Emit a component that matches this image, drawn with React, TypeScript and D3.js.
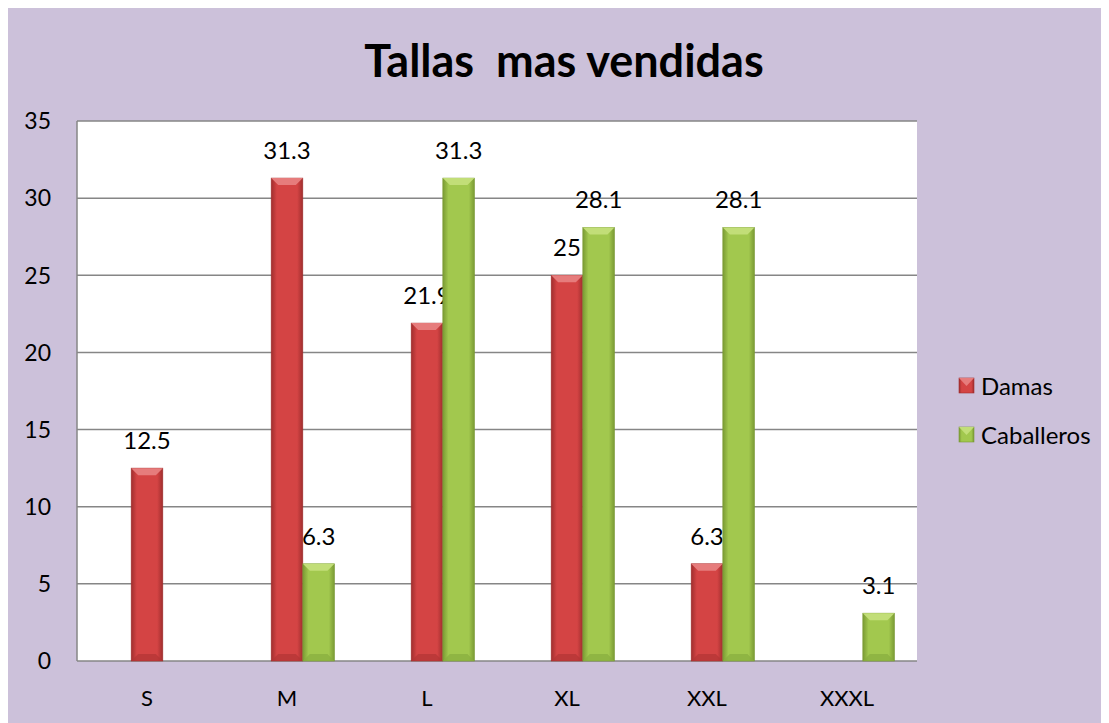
import React from "react";
import * as d3 from "d3";

const categories = ["S", "M", "L", "XL", "XXL", "XXXL"];
const seriesNames = ["Damas", "Caballeros"];
const damas: (number | null)[] = [12.5, 31.3, 21.9, 25, 6.3, null];
const caballeros: (number | null)[] = [null, 6.3, 31.3, 28.1, 28.1, 3.1];
const yTicks = [0, 5, 10, 15, 20, 25, 30, 35];

const W = 1101;
const H = 715;
const plot = { left: 69, right: 909, top: 113, bottom: 653 };
const FONT = "Lato, 'Open Sans', sans-serif";

const colors = {
  Damas: { mid: "#D44444", edge: "#A02E2E", top: "#E67C7C", bottom: "#B23434" },
  Caballeros: { mid: "#A2C84E", edge: "#7A9A34", top: "#C2DE78", bottom: "#88AC3E" },
};

export default function App() {
  const x = d3.scaleBand<string>().domain(categories).range([plot.left, plot.right]).padding(0);
  const y = d3.scaleLinear().domain([0, 35]).range([plot.bottom, plot.top]);
  const bw = x.bandwidth() * 0.226;
  const series = [
    { name: "Damas", values: damas, offset: 0 },
    { name: "Caballeros", values: caballeros, offset: 1 },
  ];
  const bevel = 7;

  return (
    <svg width={W} height={H} style={{ display: "block" }}>
      <defs>
        {seriesNames.map((n) => {
          const c = (colors as any)[n];
          return (
            <linearGradient key={n} id={`g-${n}`} x1="0" x2="1" y1="0" y2="0">
              <stop offset="0" stopColor={c.edge} />
              <stop offset="0.18" stopColor={c.mid} />
              <stop offset="0.82" stopColor={c.mid} />
              <stop offset="1" stopColor={c.edge} />
            </linearGradient>
          );
        })}
      </defs>
      <rect x={0} y={0} width={W} height={H} fill="#CCC1DA" />
      <text
        x={556}
        y={69}
        textAnchor="middle"
        fontFamily={FONT}
        fontWeight="bold"
        fontSize={45}
        fill="#000"
        style={{ whiteSpace: "pre" }}
        xmlSpace="preserve"
      >
        {"Tallas  mas vendidas"}
      </text>
      <rect x={plot.left} y={plot.top} width={plot.right - plot.left} height={plot.bottom - plot.top} fill="#fff" />
      {yTicks.map((t) => (
        <g key={t}>
          <line x1={plot.left} x2={plot.right} y1={y(t)} y2={y(t)} stroke="#868686" strokeWidth={1.5} />
          <text x={43} y={y(t)} dy="0.36em" textAnchor="end" fontFamily={FONT} fontSize={23} fill="#000">
            {t}
          </text>
        </g>
      ))}
      <line x1={plot.left} x2={plot.left} y1={plot.top} y2={plot.bottom} stroke="#868686" strokeWidth={1.5} />
      {categories.map((c) => (
        <text key={c} x={(x(c) as number) + x.bandwidth() / 2} y={698} textAnchor="middle" fontFamily={FONT} fontSize={22} fill="#000">
          {c}
        </text>
      ))}
      {series.map((s) => {
        const col = (colors as any)[s.name];
        return s.values.map((v, i) => {
          if (v == null) return null;
          const cx = (x(categories[i]) as number) + x.bandwidth() / 2 + s.offset * bw;
          const x0 = cx - bw / 2;
          const x1 = cx + bw / 2;
          const yt = y(v);
          const yb = y(0);
          return (
            <g key={s.name + i}>
              <rect x={x0} y={yt} width={bw} height={yb - yt} fill={`url(#g-${s.name})`} stroke={col.edge} strokeWidth={0.6} />
              <polygon
                points={`${x0},${yt} ${x1},${yt} ${x1 - bevel},${yt + bevel} ${x0 + bevel},${yt + bevel}`}
                fill={col.top}
              />
              <polygon
                points={`${x0},${yb} ${x1},${yb} ${x1 - bevel},${yb - bevel} ${x0 + bevel},${yb - bevel}`}
                fill={col.bottom}
                opacity={0.7}
              />
              <text x={cx} y={yt - 19} textAnchor="middle" fontFamily={FONT} fontSize={24} fill="#000">
                {v}
              </text>
            </g>
          );
        });
      })}
      {seriesNames.map((n, i) => {
        const col = (colors as any)[n];
        const cy = 378 + i * 49;
        return (
          <g key={n}>
            <rect x={951} y={cy - 8} width={15} height={15} fill={`url(#g-${n})`} stroke={col.edge} strokeWidth={0.6} />
            <polygon points={`951,${cy - 8} 966,${cy - 8} 958.5,${cy}`} fill={col.top} />
            <text x={973} y={cy} dy="0.36em" fontFamily={FONT} fontSize={24} fill="#000">
              {n}
            </text>
          </g>
        );
      })}
    </svg>
  );
}
